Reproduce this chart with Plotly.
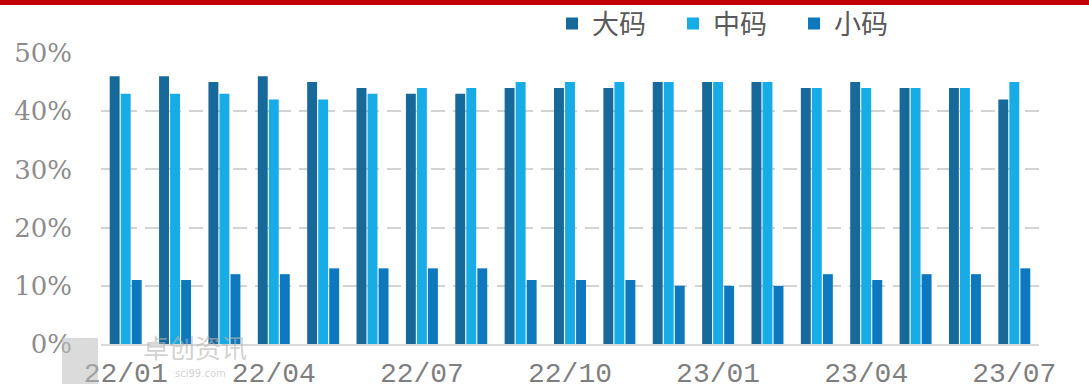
import plotly.graph_objects as go

# Monthly share of each size grade, Jan 2022 - Jul 2023
months = ["22/01", "22/02", "22/03", "22/04", "22/05", "22/06", "22/07", "22/08",
          "22/09", "22/10", "22/11", "22/12", "23/01", "23/02", "23/03", "23/04",
          "23/05", "23/06", "23/07"]
large = [46, 46, 45, 46, 45, 44, 43, 43, 44, 44, 44, 45, 45, 45, 44, 45, 44, 44, 42]
medium = [43, 43, 43, 42, 42, 43, 44, 44, 45, 45, 45, 45, 45, 45, 44, 44, 44, 44, 45]
small = [11, 11, 12, 12, 13, 13, 13, 13, 11, 11, 11, 10, 10, 10, 12, 11, 12, 12, 13]
series_names = ["大码", "中码", "小码"]
series_colors = ["#17699A", "#17ACE6", "#0E78BE"]
shown_ticks = ["22/01", "22/04", "22/07", "22/10", "23/01", "23/04", "23/07"]
y_ticks = [0, 10, 20, 30, 40, 50]

fig = go.Figure()
for name, vals, col in zip(series_names, [large, medium, small], series_colors):
    fig.add_trace(go.Bar(
        x=months, y=vals, name=name,
        marker=dict(color=col, line=dict(width=0)),
        hovertemplate="%{x} " + name + ": %{y}%<extra></extra>",
    ))

L, R, T, B = 101, 50, 53, 46
W, H = 1089, 390
pw, ph = W - L - R, H - T - B

fig.update_layout(
    width=W, height=H,
    margin=dict(l=L, r=R, t=T, b=B, pad=0, autoexpand=False),
    paper_bgcolor="white", plot_bgcolor="white",
    barmode="group", bargap=0.33, bargroupgap=0.1,
    showlegend=True,
    legend=dict(
        orientation="h",
        x=(552 - L) / pw, xanchor="left",
        y=1 + (T - 24) / ph, yanchor="middle",
        font=dict(family="Noto Sans CJK SC", size=27, color="#595959"),
        itemwidth=30, entrywidth=76, traceorder="normal",
        bgcolor="rgba(0,0,0,0)",
    ),
    xaxis=dict(
        type="category", automargin=False,
        tickmode="array", tickvals=shown_ticks, ticktext=shown_ticks,
        showgrid=False, ticks="",
        showline=True, linecolor="#D9D9D9", linewidth=1.5,
        tickfont=dict(family="Liberation Mono", size=28, color="#7F7F7F"),
        ticklabelstandoff=3,
    ),
    yaxis=dict(
        range=[0, 50], automargin=False,
        tickvals=y_ticks, ticktext=[f"{v}%" for v in y_ticks],
        showgrid=True, gridcolor="#D3D3D3", gridwidth=1.5, griddash="14px,8px",
        zeroline=False, showline=False, ticks="",
        tickfont=dict(family="DejaVu Serif", size=26, color="#8C8C8C"),
        ticklabelstandoff=28,
    ),
)

# red rule across the top edge
fig.add_shape(type="line", xref="paper", yref="paper",
              x0=-L / pw, x1=(W - L) / pw,
              y0=1 + (T - 2.5) / ph, y1=1 + (T - 2.5) / ph,
              line=dict(color="#C00000", width=5))

# faint publisher watermark in the lower-left corner
fig.add_shape(type="rect", xref="paper", yref="paper",
              x0=(62 - L) / pw, x1=(98 - L) / pw,
              y0=-(384 - (H - B)) / ph, y1=-(338 - (H - B)) / ph,
              fillcolor="rgba(190,190,190,0.55)", line=dict(width=0), layer="above")
fig.add_annotation(text="卓创资讯", xref="paper", yref="paper",
                   x=(195 - L) / pw, y=-(346 - (H - B)) / ph,
                   showarrow=False, xanchor="center", yanchor="middle",
                   font=dict(family="Noto Sans CJK SC", size=26, color="rgba(180,180,180,0.6)"))
fig.add_annotation(text="sci99.com", xref="paper", yref="paper",
                   x=(200 - L) / pw, y=-(373 - (H - B)) / ph,
                   showarrow=False, xanchor="center", yanchor="middle",
                   font=dict(family="DejaVu Sans", size=10, color="rgba(180,180,180,0.6)"))

fig.write_html("out.html")
